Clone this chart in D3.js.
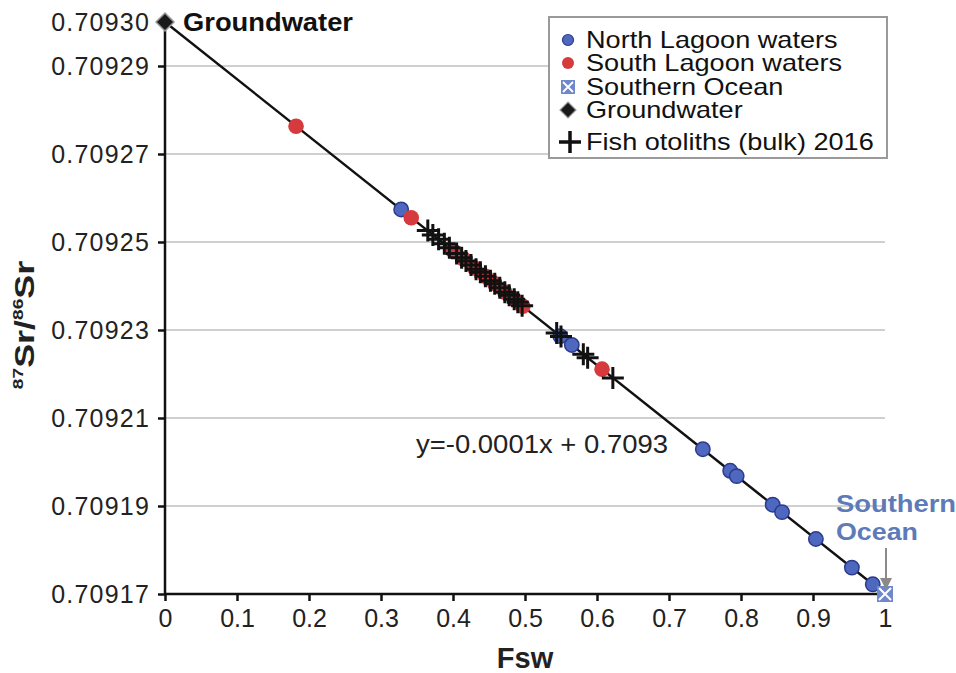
<!DOCTYPE html>
<html>
<head>
<meta charset="utf-8">
<script src="https://cdn.jsdelivr.net/npm/d3@7"></script>
<style>
  body { margin: 0; background: #fff; }
  text { font-family: "Liberation Sans", Arial, sans-serif; }
</style>
</head>
<body>
<svg id="chart" width="956" height="673"></svg>
<script>
// Fsw (x) and 87Sr/86Sr (y)
const northLagoonX = [0.328, 0.549, 0.565, 0.747, 0.785, 0.794, 0.844, 0.857, 0.904, 0.954, 0.983];
const northLagoonY = [0.7092574, 0.7092286, 0.7092266, 0.7092029, 0.709198, 0.7091968, 0.7091903, 0.7091886, 0.7091825, 0.709176, 0.7091722];

const southLagoonX = [0.182, 0.342, 0.4, 0.415, 0.43, 0.445, 0.458, 0.472, 0.485, 0.497, 0.607];
const southLagoonY = [0.7092763, 0.7092555, 0.709248, 0.7092461, 0.7092441, 0.7092422, 0.7092405, 0.7092386, 0.709237, 0.7092354, 0.7092211];

const fishX = [0.365, 0.372, 0.38, 0.388, 0.395, 0.405, 0.412, 0.418, 0.425, 0.432, 0.438, 0.445, 0.452,
  0.458, 0.465, 0.472, 0.478, 0.485, 0.49, 0.496, 0.544, 0.55, 0.581, 0.587, 0.622];
const fishY = [0.7092526, 0.7092516, 0.7092506, 0.7092496, 0.7092487, 0.7092474, 0.7092464, 0.7092457,
  0.7092448, 0.7092438, 0.7092431, 0.7092422, 0.7092412, 0.7092405, 0.7092396, 0.7092386, 0.7092379,
  0.709237, 0.7092363, 0.7092355, 0.7092293, 0.7092285, 0.7092245, 0.7092237, 0.7092191];

const southernOcean = [1, 0.70917];
const groundwater = [0, 0.7093];

const trendX = [0, 1];
const trendY = [0.7093, 0.70917];

const xTicks = [0, 0.1, 0.2, 0.3, 0.4, 0.5, 0.6, 0.7, 0.8, 0.9, 1];
const yTicks = [0.70917, 0.70919, 0.70921, 0.70923, 0.70925, 0.70927, 0.70929, 0.7093];

const legendLabels = ["North Lagoon waters", "South Lagoon waters", "Southern Ocean", "Groundwater", "Fish otoliths (bulk) 2016"];

const blueFill = "#4e68bf", blueStroke = "#2c3a8c";
const redFill = "#d63a3c";
const oceanFill = "#6f88cc";
const oceanText = "#5d7ab9";

const svg = d3.select("#chart");
const plotLeft = 165, plotRight = 885, plotTop = 22, plotBottom = 594;

const x = d3.scaleLinear().domain([0, 1]).range([plotLeft, plotRight]);
const y = d3.scaleLinear().domain([0.70917, 0.7093]).range([plotBottom, plotTop]);

// gridlines
svg.append("g")
  .selectAll("line")
  .data(yTicks.filter((d) => d > 0.70917 && d < 0.7093))
  .join("line")
  .attr("x1", plotLeft).attr("x2", plotRight)
  .attr("y1", (d) => y(d)).attr("y2", (d) => y(d))
  .attr("stroke", "#c0c0c0").attr("stroke-width", 1.6);

// axes
const yAxis = svg.append("g")
  .attr("transform", `translate(${plotLeft},0)`)
  .call(d3.axisLeft(y).tickValues(yTicks).tickFormat(d3.format(".5f")).tickSize(7).tickPadding(8));
const xAxis = svg.append("g")
  .attr("transform", `translate(0,${plotBottom})`)
  .call(d3.axisBottom(x).tickValues(xTicks).tickFormat(d3.format("")).tickSize(7).tickPadding(8));
[yAxis, xAxis].forEach((g) => {
  g.select(".domain").attr("stroke", "#111").attr("stroke-width", 2.5);
  g.selectAll(".tick line").attr("stroke", "#111").attr("stroke-width", 2.5);
  g.selectAll(".tick text").attr("font-size", 25).attr("fill", "#222")
    .attr("font-family", "Liberation Sans, Arial, sans-serif");
});
yAxis.selectAll(".tick text").attr("letter-spacing", 1.2);
// axis lines without outer ticks
yAxis.select(".domain").attr("d", `M0,${plotBottom}V${plotTop}`);
xAxis.select(".domain").attr("d", `M${plotLeft},0H${plotRight}`);

// trend line
svg.append("line")
  .attr("x1", x(trendX[0])).attr("y1", y(trendY[0]))
  .attr("x2", x(trendX[1])).attr("y2", y(trendY[1]))
  .attr("stroke", "#111").attr("stroke-width", 2.4);

const crossPath = (s) => `M${-s},0H${s}M0,${-s}V${s}`;

// north lagoon
svg.append("g").selectAll("circle")
  .data(d3.zip(northLagoonX, northLagoonY))
  .join("circle")
  .attr("cx", (d) => x(d[0])).attr("cy", (d) => y(d[1])).attr("r", 7.2)
  .attr("fill", blueFill).attr("stroke", blueStroke).attr("stroke-width", 1.5);

// south lagoon
svg.append("g").selectAll("circle")
  .data(d3.zip(southLagoonX, southLagoonY))
  .join("circle")
  .attr("cx", (d) => x(d[0])).attr("cy", (d) => y(d[1])).attr("r", 7.8)
  .attr("fill", redFill);

// fish otoliths
svg.append("g").selectAll("path")
  .data(d3.zip(fishX, fishY))
  .join("path")
  .attr("transform", (d) => `translate(${x(d[0])},${y(d[1])})`)
  .attr("d", crossPath(11))
  .attr("stroke", "#111").attr("stroke-width", 3).attr("fill", "none");

// southern ocean end member
const so = svg.append("g").attr("transform", `translate(${x(southernOcean[0])},${y(southernOcean[1])})`);
so.append("rect").attr("x", -8).attr("y", -8).attr("width", 16).attr("height", 16).attr("fill", oceanFill);
so.append("path").attr("d", "M-6,-6L6,6M6,-6L-6,6").attr("stroke", "#fff").attr("stroke-width", 2);

// groundwater end member
svg.append("path")
  .attr("transform", `translate(${x(groundwater[0])},${y(groundwater[1])})`)
  .attr("d", "M0,-9L9,0L0,9L-9,0Z")
  .attr("fill", "#1a1a1a").attr("stroke", "#999").attr("stroke-width", 1.5);

// annotations
svg.append("text").attr("x", 183).attr("y", 31).attr("font-size", 25).attr("font-weight", "bold")
  .attr("fill", "#111").attr("textLength", 170).attr("lengthAdjust", "spacingAndGlyphs").text("Groundwater");
svg.append("text").attr("x", 416).attr("y", 453).attr("font-size", 25).attr("fill", "#222")
  .attr("textLength", 252).attr("lengthAdjust", "spacingAndGlyphs").text("y=-0.0001x + 0.7093");
svg.append("text").attr("x", 836).attr("y", 512).attr("font-size", 24).attr("font-weight", "bold")
  .attr("fill", oceanText).attr("textLength", 120).attr("lengthAdjust", "spacingAndGlyphs").text("Southern");
svg.append("text").attr("x", 836).attr("y", 540).attr("font-size", 24).attr("font-weight", "bold")
  .attr("fill", oceanText).attr("textLength", 82).attr("lengthAdjust", "spacingAndGlyphs").text("Ocean");
svg.append("line").attr("x1", 886).attr("y1", 548).attr("x2", 886).attr("y2", 580)
  .attr("stroke", "#8a8a8a").attr("stroke-width", 2);
svg.append("path").attr("d", "M880,578L892,578L886,590Z").attr("fill", "#8a8a8a");

// axis titles
svg.append("text").attr("x", x(0.5)).attr("y", 668).attr("text-anchor", "middle")
  .attr("font-size", 29).attr("font-weight", "bold").attr("fill", "#222").text("Fsw");
const yt = svg.append("text").attr("transform", "translate(34,325) rotate(-90) scale(1.28,1)")
  .attr("text-anchor", "middle").attr("font-weight", "bold").attr("fill", "#222");
yt.append("tspan").attr("font-size", 15).attr("dy", -11).text("87");
yt.append("tspan").attr("font-size", 28).attr("dy", 11).text("Sr/");
yt.append("tspan").attr("font-size", 15).attr("dy", -11).text("86");
yt.append("tspan").attr("font-size", 28).attr("dy", 11).text("Sr");

// legend
const lg = svg.append("g");
lg.append("rect").attr("x", 549).attr("y", 17).attr("width", 338).attr("height", 141)
  .attr("fill", "#fff").attr("stroke", "#9a9a9a").attr("stroke-width", 2);
const rowY = [40, 63, 87, 110, 142];
const item = lg.selectAll("g.item").data(legendLabels).join("g")
  .attr("class", "item")
  .attr("transform", (_, i) => `translate(568,${rowY[i]})`);
item.append("text").attr("x", 18).attr("y", 8).attr("font-size", 24).attr("fill", "#111")
  .attr("transform", "translate(18,0) scale(1.13,1) translate(-18,0)")
  .text((d) => d);
item.filter((_, i) => i === 0).append("circle").attr("r", 5.5)
  .attr("fill", blueFill).attr("stroke", blueStroke).attr("stroke-width", 1.2);
item.filter((_, i) => i === 1).append("circle").attr("r", 6).attr("fill", redFill);
const soLeg = item.filter((_, i) => i === 2);
soLeg.append("rect").attr("x", -7).attr("y", -7).attr("width", 14).attr("height", 14).attr("fill", oceanFill);
soLeg.append("path").attr("d", "M-5,-5L5,5M5,-5L-5,5").attr("stroke", "#fff").attr("stroke-width", 1.8);
item.filter((_, i) => i === 3).append("path").attr("d", "M0,-8L8,0L0,8L-8,0Z")
  .attr("fill", "#1a1a1a").attr("stroke", "#999").attr("stroke-width", 1.2);
item.filter((_, i) => i === 4).append("path").attr("d", crossPath(11))
  .attr("transform", "translate(2,0)")
  .attr("stroke", "#111").attr("stroke-width", 3.5);
</script>
</body>
</html>
